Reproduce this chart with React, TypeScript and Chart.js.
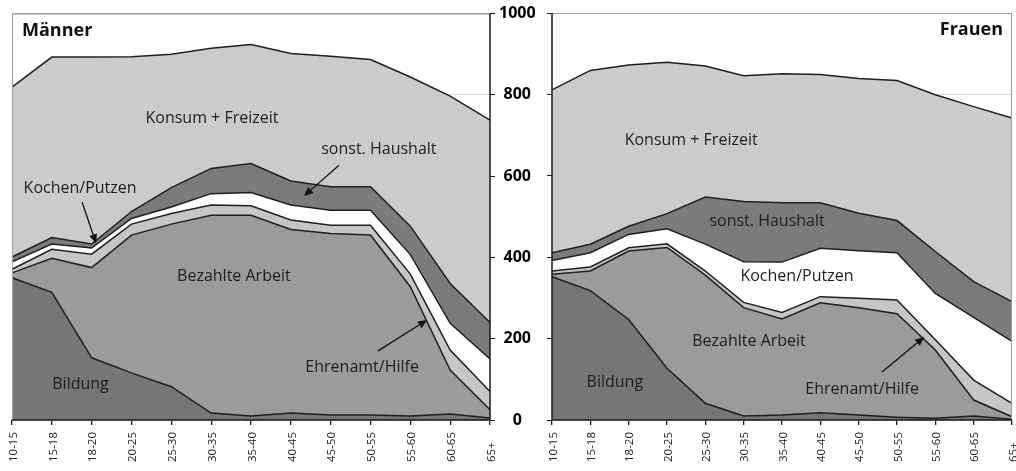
import React, { useEffect, useRef } from 'react';
import { Chart, registerables } from 'chart.js';

Chart.register(...registerables);

// ---------- data ----------
const categories = ['10-15', '15-18', '18-20', '20-25', '25-30', '30-35', '35-40', '40-45', '45-50', '50-55', '55-60', '60-65', '65+'];
const yTickValues = [0, 200, 400, 600, 800, 1000];
const seriesNames = ['Bildung', 'Bezahlte Arbeit', 'Ehrenamt/Hilfe', 'Kochen/Putzen', 'sonst. Haushalt', 'Konsum + Freizeit'];

const maennerBildung = [350, 314, 153, 116, 82, 17, 10, 17, 12, 12, 10, 15, 5];
const maennerArbeit = [12, 84, 222, 339, 400, 487, 494, 452, 447, 443, 318, 108, 20];
const maennerEhrenamt = [9, 22, 33, 27, 26, 25, 23, 23, 20, 24, 31, 49, 45];
const maennerKochen = [18, 13, 15, 14, 16, 28, 33, 37, 37, 37, 48, 66, 80];
const maennerHaushalt = [12, 16, 10, 17, 48, 62, 71, 59, 58, 58, 70, 98, 90];
const maennerKonsum = [418, 444, 460, 381, 328, 296, 293, 314, 321, 313, 367, 461, 498];

const frauenBildung = [352, 318, 247, 127, 41, 10, 12, 18, 12, 7, 4, 10, 2];
const frauenArbeit = [6, 48, 168, 297, 315, 266, 236, 270, 264, 254, 168, 39, 6];
const frauenEhrenamt = [8, 10, 8, 9, 10, 13, 16, 15, 23, 34, 25, 49, 33];
const frauenKochen = [26, 35, 33, 37, 66, 100, 124, 119, 117, 116, 114, 154, 152];
const frauenHaushalt = [19, 21, 20, 37, 116, 148, 146, 112, 92, 79, 103, 88, 98];
const frauenKonsum = [400, 427, 396, 372, 322, 309, 317, 315, 331, 344, 385, 430, 451];

// ---------- styles ----------
const seriesColors = ['#767676', '#9b9b9b', '#c6c6c6', '#ffffff', '#7b7b7b', '#cbcbcb'];
const FONT = '"Open Sans", "Noto Sans", sans-serif';

type Note = { text: string; x: number; y: number };
type Arrow = { from: [number, number]; to: [number, number] };

// annotation anchors in data coordinates (category index, value)
const maennerNotes: Note[] = [
  { text: 'Konsum + Freizeit', x: 5.02, y: 743 },
  { text: 'sonst. Haushalt', x: 9.21, y: 666 },
  { text: 'Kochen/Putzen', x: 1.71, y: 570 },
  { text: 'Bezahlte Arbeit', x: 5.57, y: 354 },
  { text: 'Bildung', x: 1.72, y: 88 },
  { text: 'Ehrenamt/Hilfe', x: 8.79, y: 130 },
];
const maennerArrows: Arrow[] = [
  { from: [8.21, 627], to: [7.33, 551] },
  { from: [1.76, 536], to: [2.11, 435] },
  { from: [9.19, 170], to: [10.42, 246] },
];
const frauenNotes: Note[] = [
  { text: 'Konsum + Freizeit', x: 3.63, y: 688 },
  { text: 'sonst. Haushalt', x: 5.61, y: 489 },
  { text: 'Kochen/Putzen', x: 6.39, y: 352 },
  { text: 'Bezahlte Arbeit', x: 5.14, y: 194 },
  { text: 'Bildung', x: 1.64, y: 93 },
  { text: 'Ehrenamt/Hilfe', x: 8.09, y: 74 },
];
const frauenArrows: Arrow[] = [{ from: [8.61, 118], to: [9.71, 204] }];

function makePlugin(side: 'left' | 'right', title: string, notes: Note[], arrows: Arrow[]) {
  return {
    id: 'frame_' + side,
    afterDatasetsDraw(chart: any) {
      const { ctx, chartArea: a, scales } = chart;
      const xs = scales.x;
      const ys = scales.y;
      ctx.save();
      // light outer frame
      ctx.strokeStyle = '#a0a0a0';
      ctx.lineWidth = 1;
      ctx.beginPath();
      if (side === 'left') {
        ctx.moveTo(a.left + 0.5, a.bottom);
        ctx.lineTo(a.left + 0.5, a.top + 0.5);
        ctx.lineTo(a.right, a.top + 0.5);
      } else {
        ctx.moveTo(a.left, a.top + 0.5);
        ctx.lineTo(a.right - 0.5, a.top + 0.5);
        ctx.lineTo(a.right - 0.5, a.bottom);
      }
      ctx.stroke();
      // dark axes
      ctx.strokeStyle = '#1a1a1a';
      ctx.lineWidth = 1.5;
      ctx.beginPath();
      const ax = side === 'left' ? a.right : a.left;
      ctx.moveTo(ax, a.top);
      ctx.lineTo(ax, a.bottom + 0.75);
      ctx.moveTo(a.left, a.bottom);
      ctx.lineTo(a.right, a.bottom);
      ctx.stroke();

      // title
      ctx.fillStyle = '#111';
      ctx.font = 'bold 18px ' + FONT;
      ctx.textBaseline = 'middle';
      if (side === 'left') {
        ctx.textAlign = 'left';
        ctx.fillText(title, a.left + 10, a.top + 17);
      } else {
        ctx.textAlign = 'right';
        ctx.fillText(title, a.right - 9, a.top + 17);
      }

      // notes
      ctx.font = '16px ' + FONT;
      ctx.fillStyle = '#1e1e1e';
      ctx.textAlign = 'center';
      notes.forEach((n) => {
        ctx.fillText(n.text, xs.getPixelForValue(n.x), ys.getPixelForValue(n.y));
      });

      // arrows
      ctx.strokeStyle = '#111';
      ctx.fillStyle = '#111';
      ctx.lineWidth = 1.3;
      arrows.forEach((ar) => {
        const x1 = xs.getPixelForValue(ar.from[0]);
        const y1 = ys.getPixelForValue(ar.from[1]);
        const x2 = xs.getPixelForValue(ar.to[0]);
        const y2 = ys.getPixelForValue(ar.to[1]);
        const ang = Math.atan2(y2 - y1, x2 - x1);
        const L = 9;
        const W = 4;
        const bx = x2 - L * Math.cos(ang);
        const by = y2 - L * Math.sin(ang);
        ctx.beginPath();
        ctx.moveTo(x1, y1);
        ctx.lineTo(bx, by);
        ctx.stroke();
        ctx.beginPath();
        ctx.moveTo(x2, y2);
        ctx.lineTo(bx + W * Math.sin(ang), by - W * Math.cos(ang));
        ctx.lineTo(bx - W * Math.sin(ang), by + W * Math.cos(ang));
        ctx.closePath();
        ctx.fill();
      });

      // x tick labels (rotated, aligned at their start)
      ctx.font = '11.5px ' + FONT;
      ctx.fillStyle = '#222';
      ctx.textAlign = 'left';
      ctx.textBaseline = 'middle';
      categories.forEach((c, i) => {
        const x = xs.getPixelForValue(i);
        ctx.save();
        ctx.translate(x + 1.5, a.bottom + 42);
        ctx.rotate(-Math.PI / 2);
        ctx.fillText(c, 0, 0);
        ctx.restore();
      });
      ctx.restore();
    },
  };
}

function makeConfig(side: 'left' | 'right', series: number[][], title: string, notes: Note[], arrows: Arrow[]) {
  const datasets = series.map((vals, i) => ({
    label: seriesNames[i],
    data: vals,
    backgroundColor: seriesColors[i],
    borderColor: '#1f1f1f',
    borderWidth: 1.5,
    pointRadius: 0,
    tension: 0,
    fill: i === 0 ? 'origin' : '-1',
  }));
  return {
    type: 'line',
    data: { labels: categories, datasets },
    options: {
      animation: false,
      responsive: false,
      devicePixelRatio: 1,
      layout: {
        padding: side === 'left' ? { left: 12, right: 0, top: 13, bottom: 0 } : { left: 0, right: 4, top: 13, bottom: 0 },
      },
      plugins: { legend: { display: false }, tooltip: { enabled: false }, title: { display: false } },
      elements: { line: { borderJoinStyle: 'miter' } },
      scales: {
        x: {
          type: 'category',
          offset: false,
          grid: { drawOnChartArea: false, drawTicks: true, tickLength: 5, tickColor: '#1a1a1a', lineWidth: 1.3 },
          border: { display: false },
          ticks: { display: false },
          afterFit: (s: any) => {
            s.height = 51;
          },
        },
        y: {
          position: side === 'left' ? 'right' : 'left',
          stacked: true,
          min: 0,
          max: 1000,
          afterBuildTicks: (s: any) => {
            s.ticks = yTickValues.map((v) => ({ value: v }));
          },
          grid: {
            color: (c: any) => (c.tick && c.tick.value === 1000 ? '#a0a0a0' : '#dadada'),
            tickColor: '#1a1a1a',
            tickLength: 5,
            drawTicks: true,
            lineWidth: 1,
          },
          border: { display: false },
          ticks: {
            display: side === 'left',
            padding: 4,
            crossAlign: 'center',
            color: '#000',
            font: { family: FONT, size: 16, weight: 'bold' },
            callback: (v: any) => String(v),
          },
          afterFit: (s: any) => {
            s.width = side === 'left' ? 56 : 6;
          },
        },
      },
    },
    plugins: [makePlugin(side, title, notes, arrows)],
  };
}

export default function App() {
  const leftRef = useRef<HTMLCanvasElement>(null);
  const rightRef = useRef<HTMLCanvasElement>(null);

  useEffect(() => {
    const left = new Chart(
      leftRef.current as HTMLCanvasElement,
      makeConfig(
        'left',
        [maennerBildung, maennerArbeit, maennerEhrenamt, maennerKochen, maennerHaushalt, maennerKonsum],
        'Männer',
        maennerNotes,
        maennerArrows
      ) as any
    );
    const right = new Chart(
      rightRef.current as HTMLCanvasElement,
      makeConfig(
        'right',
        [frauenBildung, frauenArbeit, frauenEhrenamt, frauenKochen, frauenHaushalt, frauenKonsum],
        'Frauen',
        frauenNotes,
        frauenArrows
      ) as any
    );
    return () => {
      left.destroy();
      right.destroy();
    };
  }, []);

  return (
    <div style={{ position: 'absolute', left: 0, top: 0, width: 1016, height: 471, background: '#fff', overflow: 'hidden' }}>
      <canvas ref={leftRef} width={546} height={471} style={{ position: 'absolute', left: 0, top: 0, width: 546, height: 471 }} />
      <canvas ref={rightRef} width={470} height={471} style={{ position: 'absolute', left: 546, top: 0, width: 470, height: 471 }} />
    </div>
  );
}
